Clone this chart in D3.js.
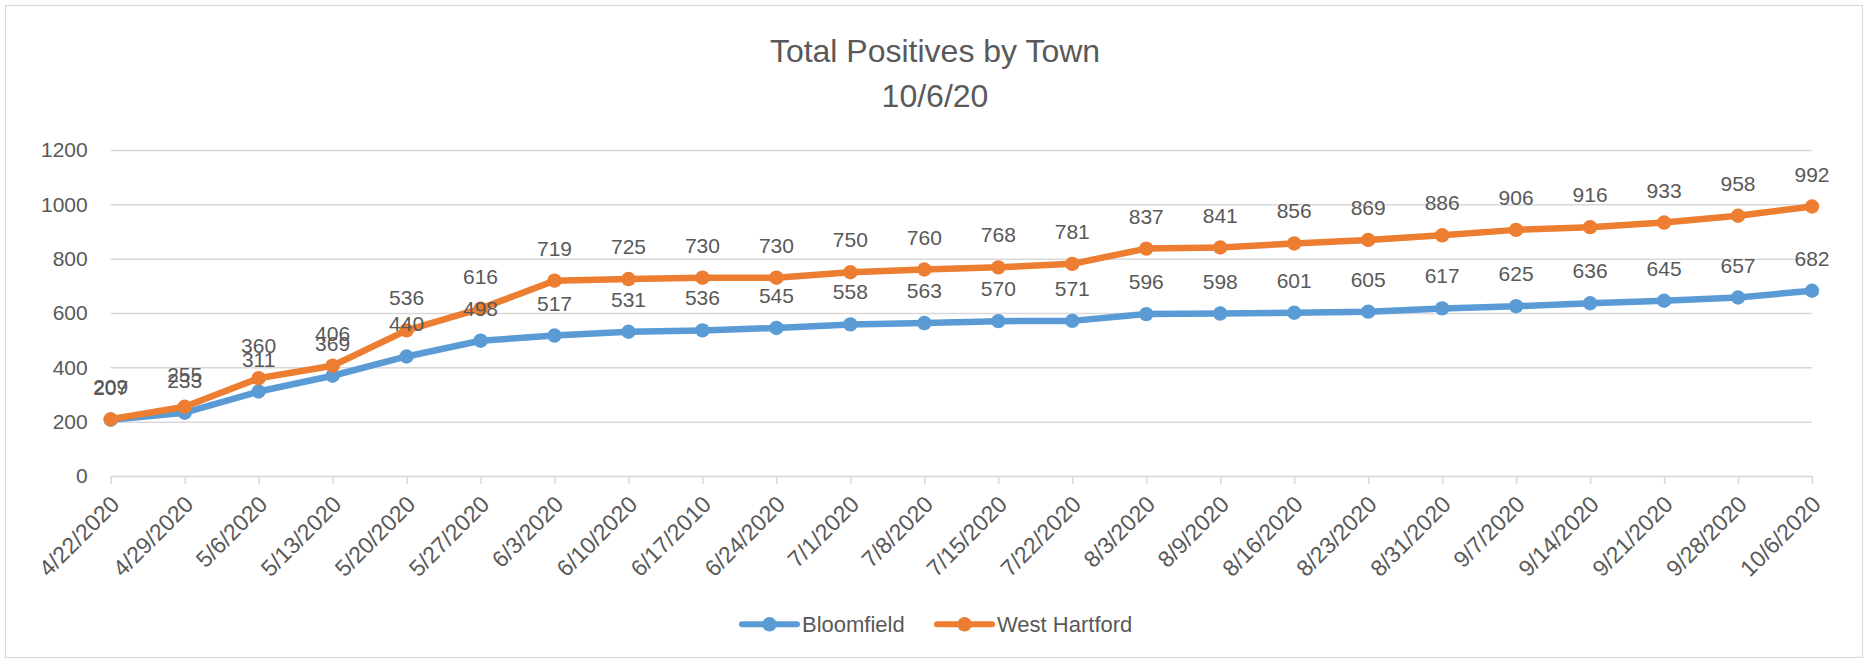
<!DOCTYPE html>
<html>
<head>
<meta charset="utf-8">
<script src="https://cdn.jsdelivr.net/npm/d3@7"></script>
<style>
  html, body { margin: 0; padding: 0; background: #fff; }
  svg { display: block; }
  text { font-family: "Liberation Sans", Arial, sans-serif; fill: #595959; }
</style>
</head>
<body>
<svg id="chart" width="1868" height="661"></svg>
<script>
const categories = ["4/22/2020","4/29/2020","5/6/2020","5/13/2020","5/20/2020","5/27/2020","6/3/2020","6/10/2020","6/17/2010","6/24/2020","7/1/2020","7/8/2020","7/15/2020","7/22/2020","8/3/2020","8/9/2020","8/16/2020","8/23/2020","8/31/2020","9/7/2020","9/14/2020","9/21/2020","9/28/2020","10/6/2020"];
const bloomfield = [207,233,311,369,440,498,517,531,536,545,558,563,570,571,596,598,601,605,617,625,636,645,657,682];
const westHartford = [209,255,360,406,536,616,719,725,730,730,750,760,768,781,837,841,856,869,886,906,916,933,958,992];
const yTicks = [0,200,400,600,800,1000,1200];
const seriesNames = ["Bloomfield","West Hartford"];
const seriesColors = ["#5B9BD5","#ED7D31"];
const titleLines = ["Total Positives by Town","10/6/20"];

(function(){
const series = [
  {name: seriesNames[0], color: seriesColors[0], values: bloomfield},
  {name: seriesNames[1], color: seriesColors[1], values: westHartford}
];

const svg = d3.select("#chart");
const W = 1868, H = 661;
const pLeft = 110.7, pRight = 1812, pTop = 150, pBottom = 476;

svg.append("rect").attr("x",0).attr("y",0).attr("width",W).attr("height",H).attr("fill","#fff");
svg.append("rect").attr("x",5.5).attr("y",5.5).attr("width",1857).attr("height",652)
  .attr("fill","none").attr("stroke","#d9d9d9").attr("stroke-width",1.2);

const x = d3.scalePoint().domain(categories).range([pLeft,pRight]);
const y = d3.scaleLinear().domain([0,1200]).range([pBottom,pTop]);

// title
svg.append("g").selectAll("text").data(titleLines).join("text")
  .attr("x", 935).attr("y", (d,i)=> i===0 ? 61.5 : 107)
  .attr("text-anchor","middle").attr("font-size", 32).text(d=>d);

// gridlines
const yAxis = d3.axisLeft(y).tickValues(yTicks).tickSize(-(pRight-pLeft)).tickPadding(23).tickFormat(d3.format("d"));
const gy = svg.append("g").attr("transform",`translate(${pLeft},0)`).call(yAxis);
gy.select(".domain").remove();
gy.selectAll(".tick line").attr("stroke","#d9d9d9").attr("stroke-width",1.5);
gy.selectAll(".tick text").attr("font-size",21).attr("fill","#595959").attr("font-family","Liberation Sans, Arial, sans-serif");

// x axis
const xAxis = d3.axisBottom(x).tickSize(8).tickPadding(0).tickSizeOuter(0);
const gx = svg.append("g").attr("transform",`translate(0,${pBottom})`).call(xAxis);
gx.select(".domain").attr("stroke","#d9d9d9").attr("stroke-width",1.5);
gx.selectAll(".tick line").attr("stroke","#d9d9d9").attr("stroke-width",1.5);
gx.selectAll(".tick text")
  .attr("font-size",23).attr("fill","#595959").attr("font-family","Liberation Sans, Arial, sans-serif")
  .attr("text-anchor","end").attr("y",0).attr("dy","0.35em")
  .attr("transform","translate(4,24) rotate(-45)");

// lines
const line = d3.line().x((d,i)=>x(categories[i])).y(d=>y(d));
const gs = svg.append("g");
series.forEach(s => {
  const g = gs.append("g");
  g.append("path").datum(s.values).attr("d",line).attr("fill","none")
    .attr("stroke",s.color).attr("stroke-width",6.5).attr("stroke-linejoin","round").attr("stroke-linecap","round");
  g.selectAll("circle").data(s.values).join("circle")
    .attr("cx",(d,i)=>x(categories[i])).attr("cy",d=>y(d)).attr("r",7.2).attr("fill",s.color);
});
// labels
series.forEach(s => {
  svg.append("g").selectAll("text").data(s.values).join("text")
    .attr("x",(d,i)=>x(categories[i])).attr("y",d=>y(d)-25)
    .attr("text-anchor","middle").attr("font-size",21).attr("fill","#404040").text(d=>d);
});

// legend
const legendY = 624.3;
const legendItems = [
  {name: seriesNames[0], color: seriesColors[0], x0: 742},
  {name: seriesNames[1], color: seriesColors[1], x0: 937}
];
const lg = svg.append("g");
legendItems.forEach(it => {
  lg.append("line").attr("x1",it.x0).attr("x2",it.x0+55).attr("y1",legendY).attr("y2",legendY)
    .attr("stroke",it.color).attr("stroke-width",6).attr("stroke-linecap","round");
  lg.append("circle").attr("cx",it.x0+27.5).attr("cy",legendY).attr("r",7.2).attr("fill",it.color);
  lg.append("text").attr("x",it.x0+60).attr("y",legendY+7.5).attr("font-size",22).text(it.name);
});
})();
</script>
</body>
</html>
